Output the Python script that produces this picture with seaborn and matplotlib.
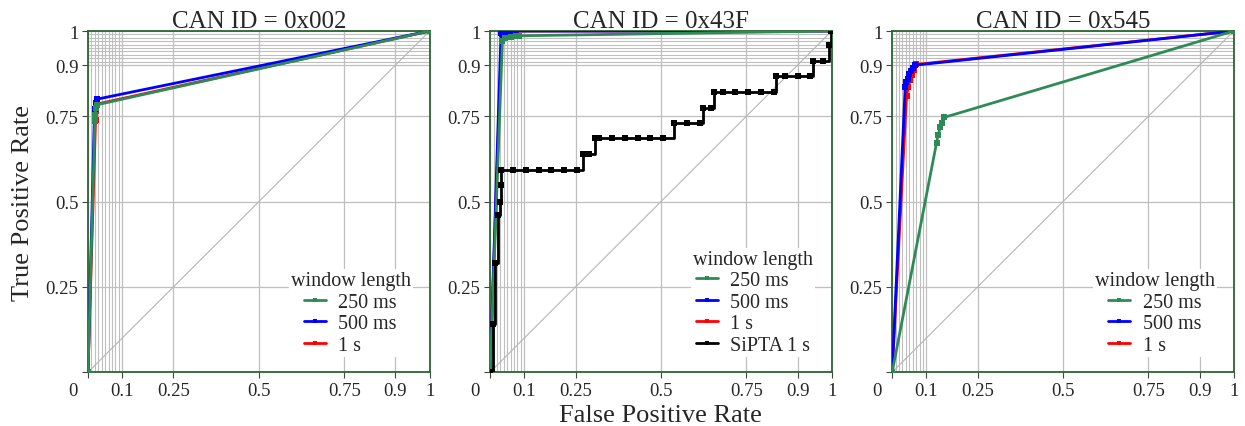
import matplotlib
matplotlib.use('Agg')
import matplotlib.pyplot as plt
import matplotlib.transforms as mtransforms
import numpy as np
import seaborn as sns

# ROC points (fpr, tpr)
fpr_002_250 = [0.0, 0.020, 0.021, 0.023, 0.027, 1.0]
tpr_002_250 = [0.0, 0.735, 0.755, 0.775, 0.784, 1.0]
fpr_002_500 = [0.0, 0.019, 0.022, 0.025, 1.0]
tpr_002_500 = [0.0, 0.770, 0.790, 0.800, 1.0]
fpr_002_1s = [0.0, 0.022, 0.024, 0.027, 1.0]
tpr_002_1s = [0.0, 0.740, 0.765, 0.786, 1.0]

fpr_43f_250 = [0.0, 0.036, 0.045, 0.060, 0.075, 0.085, 1.0]
tpr_43f_250 = [0.0, 0.970, 0.980, 0.983, 0.985, 0.986, 1.0]
fpr_43f_500 = [0.0, 0.032, 0.045, 0.055, 0.065, 0.073, 1.0]
tpr_43f_500 = [0.0, 0.995, 0.998, 1.0, 1.0, 1.0, 1.0]
fpr_43f_1s = [0.0, 0.034, 0.050, 0.065, 0.077, 1.0]
tpr_43f_1s = [0.0, 0.990, 0.997, 1.0, 1.0, 1.0]
fpr_43f_sipta = [0.0, 0.009, 0.015, 0.023, 0.028, 0.033, 0.033, 0.067, 0.106, 0.143, 0.179, 0.216, 0.255,
                 0.272, 0.29, 0.306, 0.32, 0.357, 0.395, 0.434, 0.469, 0.506, 0.538, 0.577, 0.614,
                 0.624, 0.647, 0.655, 0.682, 0.718, 0.754, 0.793, 0.830, 0.838, 0.864, 0.900, 0.937,
                 0.945, 0.974, 0.992, 0.997]
tpr_43f_sipta = [0.0, 0.14, 0.32, 0.46, 0.50, 0.549, 0.593, 0.593, 0.593, 0.593, 0.593, 0.593, 0.593,
                 0.639, 0.639, 0.686, 0.686, 0.686, 0.686, 0.686, 0.686, 0.686, 0.730, 0.730, 0.730,
                 0.775, 0.775, 0.822, 0.822, 0.822, 0.822, 0.822, 0.822, 0.867, 0.867, 0.867, 0.867,
                 0.911, 0.911, 0.959, 1.0]

fpr_545_250 = [0.0, 0.130, 0.134, 0.141, 0.145, 0.153, 1.0]
tpr_545_250 = [0.0, 0.673, 0.695, 0.718, 0.730, 0.747, 1.0]
fpr_545_500 = [0.0, 0.038, 0.041, 0.045, 0.050, 0.056, 0.062, 0.068, 1.0]
tpr_545_500 = [0.0, 0.835, 0.850, 0.860, 0.873, 0.883, 0.893, 0.900, 1.0]
fpr_545_1s = [0.0, 0.042, 0.047, 0.052, 0.057, 0.063, 0.070, 1.0]
tpr_545_1s = [0.0, 0.810, 0.835, 0.855, 0.872, 0.887, 0.902, 1.0]

can_ids = ['0x002', '0x43F', '0x545']
window_labels = ['250 ms', '500 ms', '1 s']
sipta_label = 'SiPTA 1 s'
colors = {'250 ms': '#2e8b57', '500 ms': '#0000ff', '1 s': '#ff0000', 'SiPTA 1 s': 'black'}

major_ticks_x = [0, 0.1, 0.25, 0.5, 0.75, 0.9, 1]
major_ticks_y = [0, 0.25, 0.5, 0.75, 0.9, 1]
tick_labels_x = ['0', '0.1', '0.25', '0.5', '0.75', '0.9', '1']
tick_labels_y = ['', '0.25', '0.5', '0.75', '0.9', '1']

curves = [
    {'250 ms': (fpr_002_250, tpr_002_250), '500 ms': (fpr_002_500, tpr_002_500), '1 s': (fpr_002_1s, tpr_002_1s)},
    {'250 ms': (fpr_43f_250, tpr_43f_250), '500 ms': (fpr_43f_500, tpr_43f_500), '1 s': (fpr_43f_1s, tpr_43f_1s),
     'SiPTA 1 s': (fpr_43f_sipta, tpr_43f_sipta)},
    {'250 ms': (fpr_545_250, tpr_545_250), '500 ms': (fpr_545_500, tpr_545_500), '1 s': (fpr_545_1s, tpr_545_1s)},
]

sns.set_theme(style='white')
plt.rcParams['font.family'] = ['Liberation Serif', 'DejaVu Serif']

fig, axes = plt.subplots(1, 3, figsize=(12.45, 4.27), dpi=100)
plt.subplots_adjust(left=0.0707, right=0.991, bottom=0.126, top=0.925, wspace=0.177)

spine_col = '#2a6530'
grid_col = '#bfbfbf'

for k, ax in enumerate(axes):
    ax.set_xlim(0, 1)
    ax.set_ylim(0, 1)
    ax.set_xticks(major_ticks_x)
    ax.set_xticklabels(tick_labels_x)
    ax.set_yticks(major_ticks_y)
    ax.set_yticklabels(tick_labels_y)
    ax.set_xticks(np.arange(0.01, 0.1, 0.01), minor=True)
    ax.set_yticks(np.arange(0.91, 1.0, 0.01), minor=True)
    ax.grid(True, which='major', color=grid_col, lw=0.9)
    ax.grid(True, which='minor', color=grid_col, lw=0.8)
    ax.tick_params(which='major', direction='out', length=4, width=0.8, color='#444444',
                   labelsize=13.5, pad=3, bottom=True, left=True)
    ax.tick_params(which='minor', length=0)
    for s in ax.spines.values():
        s.set_color(spine_col)
        s.set_linewidth(1.3)
    ax.set_axisbelow(True)

    # chance diagonal
    ax.plot([0, 1], [0, 1], color='#b5b5b5', lw=0.8, zorder=1)

    data = curves[k]
    draw_order = ['1 s', '500 ms', '250 ms', 'SiPTA 1 s']
    for name in draw_order:
        if name not in data:
            continue
        fx, fy = data[name]
        kw = dict(drawstyle='steps-post') if name == 'SiPTA 1 s' else {}
        sns.lineplot(x=fx, y=fy, ax=ax, color=colors[name], lw=2.0, marker='s', markersize=4.2,
                     markeredgewidth=0, estimator=None, sort=False, label=name, zorder=3, **kw)
    h, l = ax.get_legend_handles_labels()
    order = [n for n in window_labels + [sipta_label] if n in l]
    hs = [h[l.index(n)] for n in order]
    leg = ax.legend(hs, order, title='window length', loc='lower right',
                    bbox_to_anchor=(0.95, 0.045), fontsize=14.5, title_fontsize=14.5,
                    frameon=True, fancybox=False, framealpha=1, edgecolor='none',
                    handlelength=1.1, handletextpad=0.6, labelspacing=0.12, borderpad=0.1,
                    borderaxespad=0, markerscale=0.8)
    leg.get_frame().set_facecolor('white')

    ax.set_title('CAN ID = ' + can_ids[k], fontsize=18, pad=3)
    ax.set_xlabel('')
    ax.set_ylabel('')

    # shift the "0" on the x axis to the left like the original
    lab0 = ax.get_xticklabels()[0]
    lab0.set_transform(lab0.get_transform() + mtransforms.ScaledTranslation(-0.15, 0, fig.dpi_scale_trans))

axes[0].set_ylabel('True Positive Rate', fontsize=19, labelpad=8)
axes[1].set_xlabel('False Positive Rate', fontsize=19, labelpad=4)

fig.savefig('out.png', dpi=100)
